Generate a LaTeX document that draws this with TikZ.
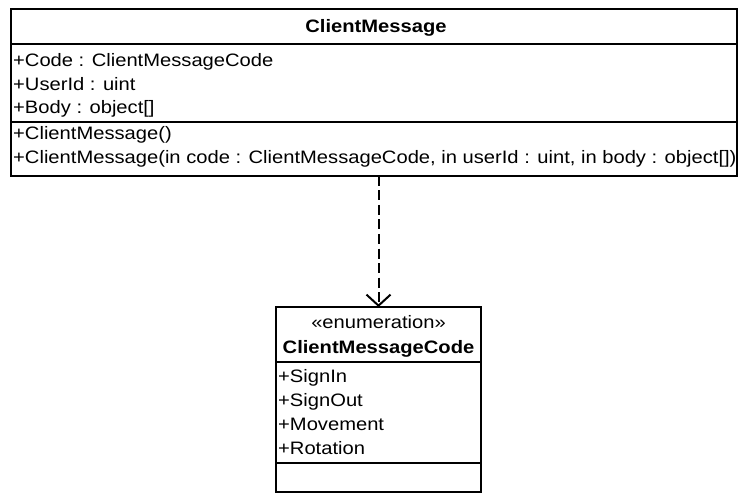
\documentclass[tikz,border=0pt]{standalone}
\usepackage{fontspec}
\setmainfont{Liberation Sans}[FakeStretch=1.12]
\usetikzlibrary{arrows.meta}

\begin{document}
\begin{tikzpicture}[x=1pt,y=-1pt,
  umlbox/.style={draw, line width=2pt, inner sep=0pt, outer sep=0pt, anchor=north west},
  sep/.style={line width=2pt},
  member/.style={anchor=base west, inner sep=0pt, font=\fontsize{18}{21}\selectfont},
  stereo/.style={anchor=base, inner sep=0pt, font=\fontsize{18}{21}\selectfont},
  title/.style={anchor=base, inner sep=0pt, font=\fontsize{18}{21}\selectfont\bfseries},
  depend/.style={line width=2pt, dash pattern=on 10pt off 4.5pt,
    -{Straight Barb[length=11pt, width=24pt, line width=2pt]}}
]
\useasboundingbox (0,0) rectangle (738,494);

% class ClientMessage
\node[umlbox, minimum width=726pt, minimum height=167pt] (cls) at (11,9) {};
\draw[sep] (11,44) -- (737,44);
\draw[sep] (11,122) -- (737,122);
\node[title] (clsname) at (376,33) {ClientMessage};
\node[member] (a1) at (13,67) {+Code : ClientMessageCode};
\node[member] (a2) at (13,90.5) {+UserId : uint};
\node[member] (a3) at (13,114) {+Body : object[]};
\node[member] (m1) at (13,140) {+ClientMessage()};
\node[member] (m2) at (13,163.5) {+ClientMessage(in code : ClientMessageCode, in userId : uint, in body : object[])};

% enumeration ClientMessageCode
\node[umlbox, minimum width=205pt, minimum height=185pt] (enum) at (276,307) {};
\draw[sep] (276,362) -- (481,362);
\draw[sep] (276,463) -- (481,463);
\node[stereo] (st) at (378.5,328) {«enumeration»};
\node[title] (enumname) at (378.5,353) {ClientMessageCode};
\node[member] (e1) at (278,382) {+SignIn};
\node[member] (e2) at (278,406.5) {+SignOut};
\node[member] (e3) at (278,430.5) {+Movement};
\node[member] (e4) at (278,454) {+Rotation};

% dependency
\draw[depend] (enum.north |- cls.south) -- (enum.north);
\end{tikzpicture}
\end{document}
